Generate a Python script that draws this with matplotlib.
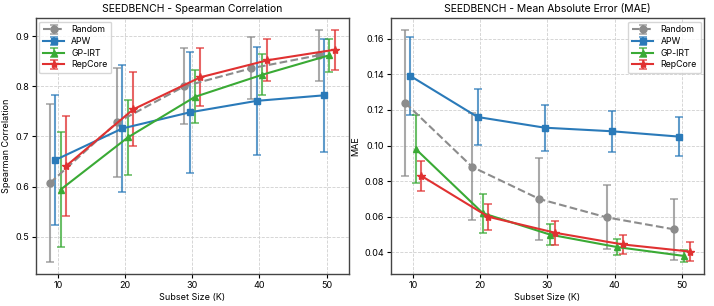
import matplotlib
matplotlib.use("Agg")
import matplotlib.pyplot as plt
import numpy as np

subset_sizes = [10, 20, 30, 40, 50]
methods = ["Random", "APW", "GP-IRT", "RepCore"]

# Spearman correlation (mean, std)
spearman_mean = {
    "Random": [0.607, 0.728, 0.800, 0.836, 0.862],
    "APW": [0.653, 0.716, 0.748, 0.771, 0.782],
    "GP-IRT": [0.594, 0.698, 0.779, 0.823, 0.862],
    "RepCore": [0.641, 0.754, 0.818, 0.852, 0.873],
}
spearman_std = {
    "Random": [0.158, 0.108, 0.076, 0.062, 0.051],
    "APW": [0.129, 0.126, 0.120, 0.108, 0.113],
    "GP-IRT": [0.115, 0.075, 0.053, 0.041, 0.033],
    "RepCore": [0.100, 0.074, 0.058, 0.042, 0.040],
}

# MAE (mean, std)
mae_mean = {
    "Random": [0.124, 0.088, 0.070, 0.0597, 0.053],
    "APW": [0.139, 0.116, 0.110, 0.108, 0.105],
    "GP-IRT": [0.098, 0.062, 0.050, 0.043, 0.038],
    "RepCore": [0.083, 0.060, 0.051, 0.0445, 0.0405],
}
mae_std = {
    "Random": [0.041, 0.030, 0.023, 0.018, 0.017],
    "APW": [0.022, 0.0155, 0.0128, 0.0115, 0.011],
    "GP-IRT": [0.019, 0.011, 0.006, 0.0045, 0.0035],
    "RepCore": [0.0085, 0.0073, 0.0068, 0.0055, 0.0052],
}

styles = {
    "Random": dict(color="#8c8c8c", marker="o", ls="--", off=-1.2),
    "APW": dict(color="#2a7ab9", marker="s", ls="-", off=-0.4),
    "GP-IRT": dict(color="#3aaa35", marker="^", ls="-", off=0.4),
    "RepCore": dict(color="#e03131", marker="*", ls="-", off=1.2),
}

plt.rcParams["font.family"] = ["Inter", "DejaVu Sans"]

fig, axes = plt.subplots(1, 2, figsize=(7.14, 3.06), dpi=100)
fig.subplots_adjust(left=0.050, right=0.986, top=0.941, bottom=0.105, wspace=0.134)


def draw(ax, means, stds, title, ylabel, legend_loc):
    for m in methods:
        st = styles[m]
        xs = np.array(subset_sizes) + st["off"]
        line, caps, bars = ax.errorbar(
            xs, means[m], yerr=stds[m], color=st["color"], marker=st["marker"],
            linestyle=st["ls"], linewidth=1.5, markersize=5 if st["marker"] != "*" else 6,
            capsize=3, elinewidth=1.5, capthick=1.2, label=m,
        )
        for c in caps:
            c.set_alpha(0.75)
        for b in bars:
            b.set_alpha(0.75)
    ax.set_title(title, fontsize=7.5, pad=4)
    ax.set_xlabel("Subset Size (K)", fontsize=6.5, labelpad=2)
    ax.set_ylabel(ylabel, fontsize=6.5, labelpad=3)
    ax.set_xticks(subset_sizes)
    ax.tick_params(labelsize=6.5, length=3, width=0.8, pad=2)
    ax.grid(True, linestyle="--", color="#d0d0d0", linewidth=0.6)
    for s in ax.spines.values():
        s.set_color("#444444")
        s.set_linewidth(1.0)
    ax.legend(loc=legend_loc, fontsize=6.3, frameon=True, handlelength=2.4,
              borderpad=0.45, labelspacing=0.3, edgecolor="#cccccc",
              borderaxespad=0.4)


draw(axes[0], spearman_mean, spearman_std, "SEEDBENCH - Spearman Correlation",
     "Spearman Correlation", "upper left")
draw(axes[1], mae_mean, mae_std, "SEEDBENCH - Mean Absolute Error (MAE)",
     "MAE", "upper right")

fig.savefig("out.png", dpi=100)
plt.close(fig)
